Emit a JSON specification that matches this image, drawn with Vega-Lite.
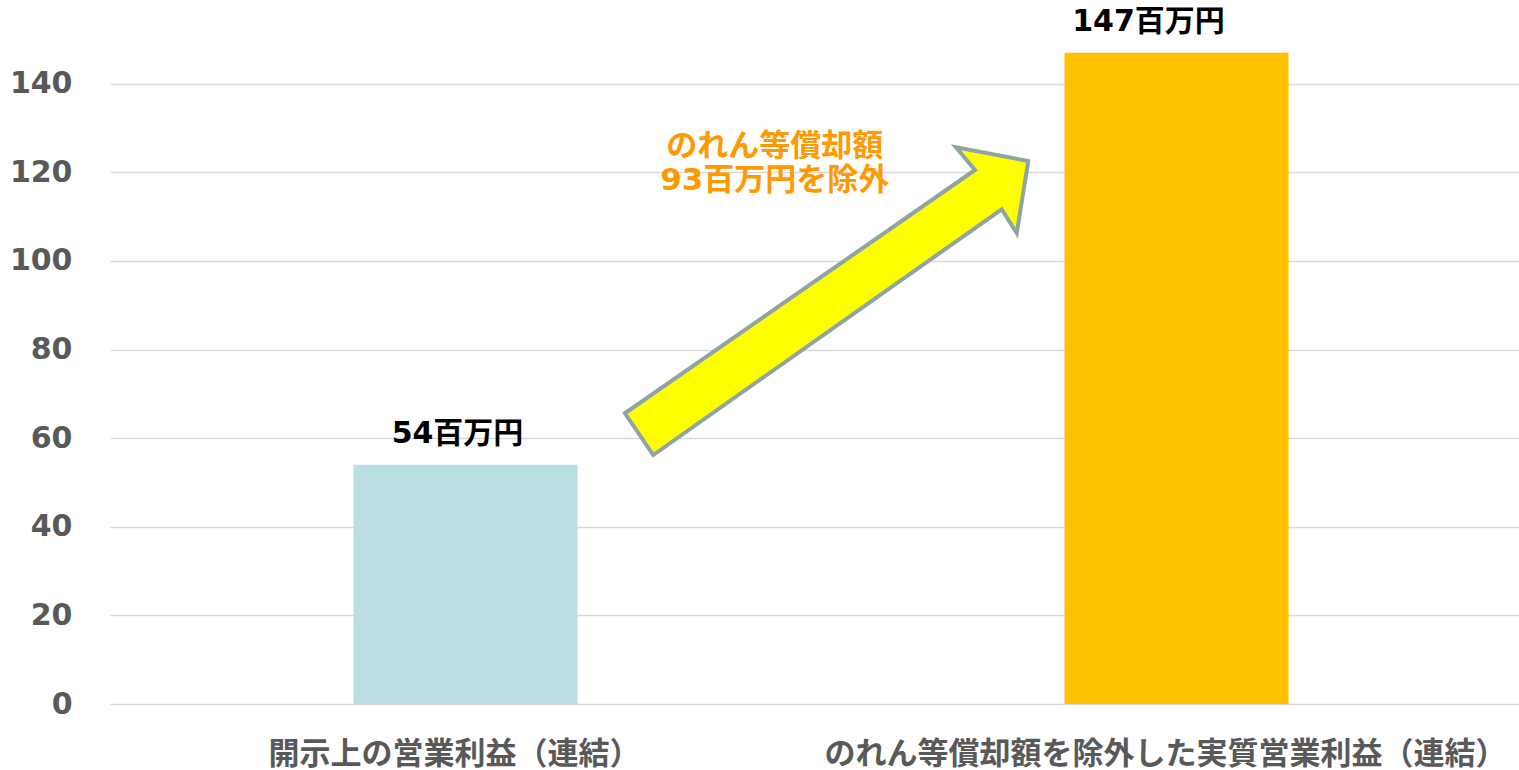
{
  "$schema": "https://vega.github.io/schema/vega-lite/v6.json",
  "autosize": "none",
  "width": 1409,
  "height": 700,
  "padding": {"left": 110, "top": 4, "right": 0, "bottom": 66},
  "background": "white",
  "config": {
    "view": {"stroke": null},
    "font": "DejaVu Sans, Noto Sans CJK JP"
  },
  "datasets": {
    "bars": [
      {"category": "開示上の営業利益（連結）", "value": 54, "label": "54百万円"},
      {"category": "のれん等償却額を除外した実質営業利益（連結）", "value": 147, "label": "147百万円"}
    ],
    "arrow": [{"pos": 1, "value": 90}],
    "note": [{"pos": 0.935, "value": 125.8, "text": "のれん等償却額\n93百万円を除外"}]
  },
  "resolve": {"scale": {"x": "independent"}, "axis": {"x": "independent"}},
  "layer": [
    {
      "data": {"name": "bars"},
      "layer": [
        {
          "mark": {"type": "bar", "width": 224},
          "encoding": {
            "x": {
              "field": "category", "type": "nominal", "sort": null,
              "scale": {"range": [0, 1422], "paddingInner": 0, "paddingOuter": 0},
              "axis": {
                "title": null, "domain": false, "ticks": false, "labelAngle": 0,
                "labelFontSize": 31, "labelFontWeight": "bold", "labelColor": "#595959",
                "labelPadding": 35, "labelOffset": -11, "labelLimit": 0,
                "labelFont": "DejaVu Sans, Noto Sans CJK JP"
              }
            },
            "y": {
              "field": "value", "type": "quantitative",
              "scale": {"domain": [0, 158], "nice": false},
              "axis": {
                "title": null, "domain": false, "ticks": false,
                "values": [0, 20, 40, 60, 80, 100, 120, 140],
                "labelFontSize": 30, "labelFontWeight": "bold", "labelColor": "#595959",
                "labelPadding": 38, "gridColor": "#D9D9D9", "gridWidth": 1.5,
                "labelFont": "DejaVu Sans, Noto Sans CJK JP"
              }
            },
            "color": {
              "field": "category", "type": "nominal",
              "scale": {"domain": ["開示上の営業利益（連結）", "のれん等償却額を除外した実質営業利益（連結）"], "range": ["#B9DFE2", "#FFC000"]},
              "legend": null
            }
          }
        },
        {
          "transform": [{"filter": "datum.value < 100"}],
          "mark": {"type": "text", "baseline": "bottom", "dy": -16, "dx": -8, "fontSize": 30, "fontWeight": "bold", "color": "#000000", "font": "DejaVu Sans, Noto Sans CJK JP"},
          "encoding": {
            "x": {"field": "category", "type": "nominal", "sort": null},
            "y": {"field": "value", "type": "quantitative"},
            "text": {"field": "label"}
          }
        },
        {
          "transform": [{"filter": "datum.value >= 100"}],
          "mark": {"type": "text", "baseline": "bottom", "dy": -16, "dx": -28, "fontSize": 30, "fontWeight": "bold", "color": "#000000", "font": "DejaVu Sans, Noto Sans CJK JP"},
          "encoding": {
            "x": {"field": "category", "type": "nominal", "sort": null},
            "y": {"field": "value", "type": "quantitative"},
            "text": {"field": "label"}
          }
        }
      ]
    },
    {
      "data": {"name": "arrow"},
      "mark": {
        "type": "point",
        "shape": "M-0.784,0.432L0.616,-0.541L0.540,-0.632L0.829,-0.577L0.783,-0.288L0.723,-0.384L-0.671,0.599Z",
        "size": 250000, "filled": true, "fill": "#FFFF00", "stroke": "#8FA5A5", "strokeWidth": 4,
        "opacity": 1, "fillOpacity": 1, "strokeOpacity": 1
      },
      "encoding": {
        "x": {"field": "pos", "type": "quantitative", "scale": {"domain": [0, 2], "range": [0, 1422], "nice": false, "zero": false}, "axis": null},
        "y": {"field": "value", "type": "quantitative"}
      }
    },
    {
      "data": {"name": "note"},
      "mark": {"type": "text", "lineBreak": "\n", "align": "center", "baseline": "middle", "fontSize": 31, "lineHeight": 34, "fontWeight": "bold", "color": "#FF9900", "font": "DejaVu Sans, Noto Sans CJK JP"},
      "encoding": {
        "x": {"field": "pos", "type": "quantitative", "scale": {"domain": [0, 2], "range": [0, 1422], "nice": false, "zero": false}, "axis": null},
        "y": {"field": "value", "type": "quantitative"},
        "text": {"field": "text"}
      }
    }
  ]
}
